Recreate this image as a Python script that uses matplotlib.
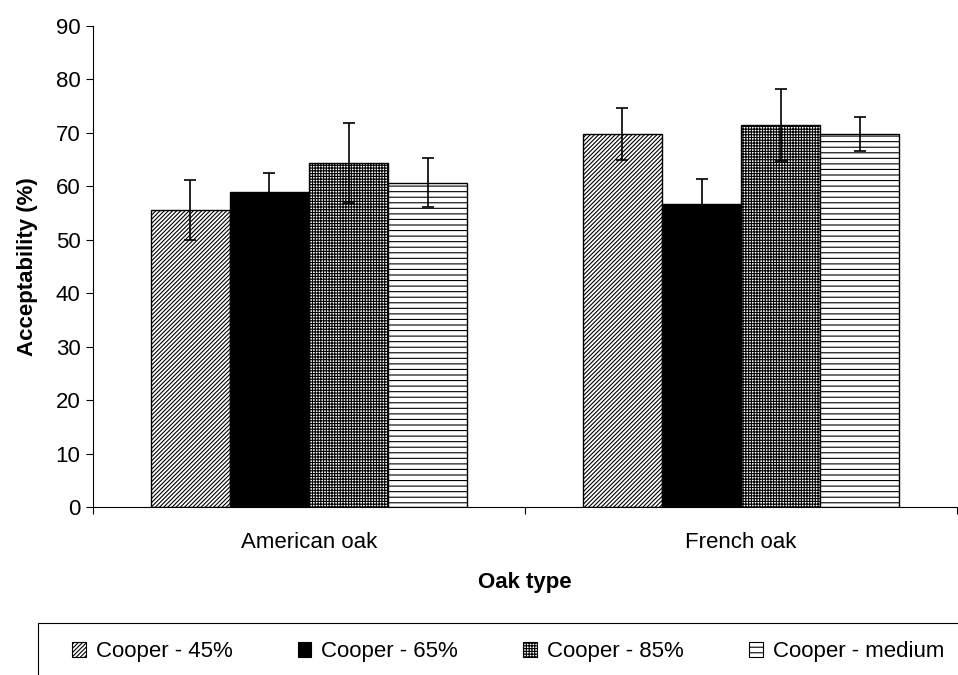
import matplotlib
matplotlib.use("Agg")
import matplotlib.pyplot as plt
from matplotlib.patches import Rectangle, Patch
import numpy as np

plt.rcParams["font.family"] = ["Liberation Sans", "DejaVu Sans"]
plt.rcParams["hatch.linewidth"] = 0.8

oak_types = ["American oak", "French oak"]
series = ["Cooper - 45%", "Cooper - 65%", "Cooper - 85%", "Cooper - medium"]
means = [
    [55.5, 69.8],   # 45%
    [59.0, 56.6],   # 65%
    [64.3, 71.5],   # 85%
    [60.7, 69.8],   # medium
]
errors = [
    [5.6, 4.9],
    [3.5, 4.8],
    [7.5, 6.7],
    [4.6, 3.2],
]
hatches = ["////////", "", "++++++", "---"]
faces = ["white", "black", "white", "white"]

FS = 16

fig = plt.figure(figsize=(9.58, 6.75), dpi=100)
ax = fig.add_axes([0.0971, 0.2489, 0.9019, 0.7126])

x = np.arange(len(oak_types))
width = 0.183
for i, name in enumerate(series):
    pos = x + (i - 1.5) * width
    ax.bar(pos, means[i], width, color=faces[i], edgecolor="black", hatch=hatches[i],
           linewidth=1.0, label=name, zorder=2)
    ax.errorbar(pos, means[i], yerr=errors[i], fmt="none", ecolor="black",
                elinewidth=1.2, capsize=4.3, capthick=1.2, zorder=3)

ax.set_xlim(-0.5, 1.5)
ax.set_ylim(0, 90)
ax.set_yticks(range(0, 91, 10))
ax.tick_params(axis="y", direction="out", length=5, labelsize=FS, pad=4)

ax.set_xticks([-0.5, 0.5, 1.5])
ax.set_xticklabels([])
ax.tick_params(axis="x", which="major", direction="out", length=5)
ax.set_xticks(x, minor=True)
ax.set_xticklabels(oak_types, minor=True, fontsize=FS)
ax.tick_params(axis="x", which="minor", length=0, pad=18)

ax.spines["top"].set_visible(False)
ax.spines["right"].set_visible(False)

ax.set_ylabel("Acceptability (%)", fontsize=FS, fontweight="bold", labelpad=13)
ax.set_xlabel("Oak type", fontsize=FS, fontweight="bold", labelpad=14)

# legend box, cut off at the right and bottom like the original
fig.patches.append(Rectangle((38 / 958, -0.05), 1.0, 0.05 + 52 / 675,
                             transform=fig.transFigure, fill=False,
                             edgecolor="black", linewidth=0.8))
handles = [Patch(facecolor=faces[i], edgecolor="black", hatch=hatches[i], linewidth=0.8)
           for i in range(len(series))]
fig.legend(handles, series, loc="center left", ncol=4, frameon=False,
           bbox_to_anchor=(72 / 958, 23 / 675), fontsize=FS, handlelength=0.62,
           handleheight=0.62, handletextpad=0.45, columnspacing=2.93,
           borderpad=0, borderaxespad=0)

fig.savefig("out.png", dpi=100)
